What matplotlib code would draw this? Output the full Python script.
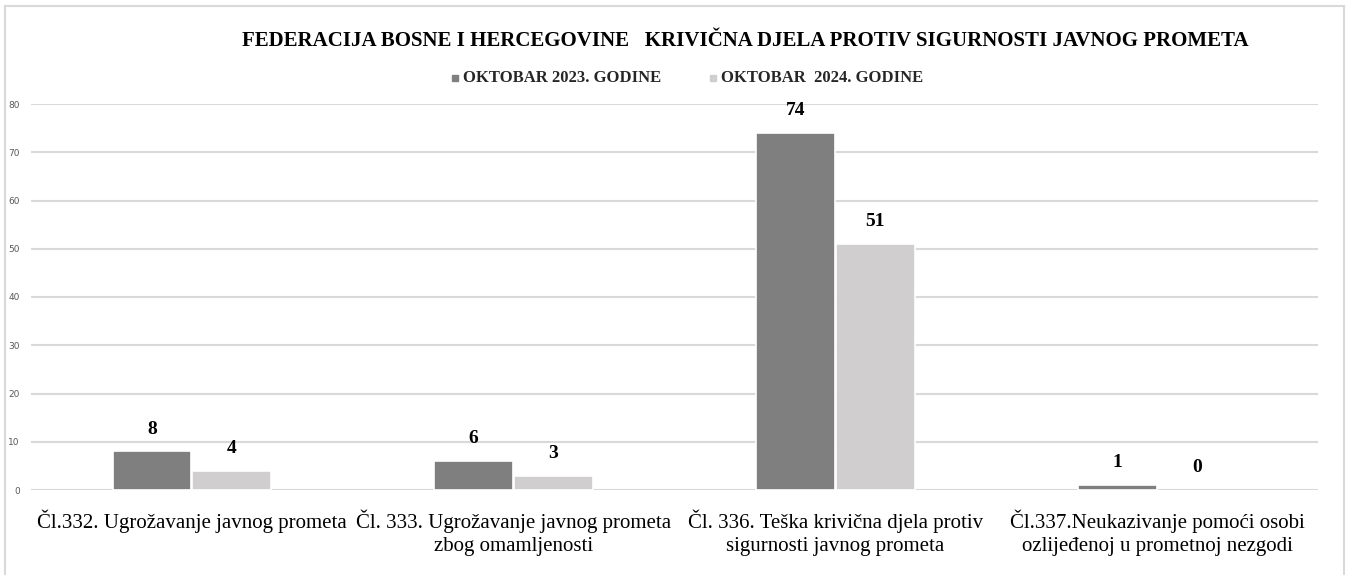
import matplotlib
matplotlib.use("Agg")
import matplotlib.pyplot as plt
from matplotlib.patches import Rectangle
from matplotlib.lines import Line2D
import numpy as np

categories = [
    "Čl.332. Ugrožavanje javnog prometa",
    "Čl. 333. Ugrožavanje javnog prometa\nzbog omamljenosti",
    "Čl. 336. Teška krivična djela protiv\nsigurnosti javnog prometa",
    "Čl.337.Neukazivanje pomoći osobi\nozlijeđenoj u prometnoj nezgodi",
]
series_2023 = [8, 6, 74, 1]
series_2024 = [4, 3, 51, 0]
series_names = ["OKTOBAR 2023. GODINE", "OKTOBAR  2024. GODINE"]
title = "FEDERACIJA BOSNE I HERCEGOVINE   KRIVIČNA DJELA PROTIV SIGURNOSTI JAVNOG PROMETA"
yticks = [0, 10, 20, 30, 40, 50, 60, 70, 80]

c_dark = "#7f7f7f"
c_light = "#d0cece"
serif = ["Liberation Serif", "DejaVu Serif"]

W, H = 1348, 575
fig = plt.figure(figsize=(W / 100, H / 100), dpi=100)
fig.patch.set_facecolor("white")

# outer frame
fig.add_artist(Line2D([5 / W, 5 / W], [0, 1 - 6 / H], color="#d9d9d9", lw=1.5))
fig.add_artist(Line2D([5 / W, 1344 / W], [1 - 6 / H, 1 - 6 / H], color="#d9d9d9", lw=1.5))
fig.add_artist(Line2D([1344 / W, 1344 / W], [0, 1 - 6 / H], color="#d9d9d9", lw=1.5))

ax_left, ax_right = 31, 1318
ax_top, ax_bot = 104, 490
ax = fig.add_axes([ax_left / W, 1 - ax_bot / H, (ax_right - ax_left) / W, (ax_bot - ax_top) / H])

x = np.arange(len(categories))
bw = 0.245
off = 0.124
b1 = ax.bar(x - off, series_2023, width=bw, color=c_dark, edgecolor="white", linewidth=1.2, zorder=3)
b2 = ax.bar(x + off, series_2024, width=bw, color=c_light, edgecolor="white", linewidth=1.2, zorder=3)

for bars, vals in ((b1, series_2023), (b2, series_2024)):
    for r, v in zip(bars, vals):
        if v == 0:
            r.set_linewidth(0)
        ax.annotate(str(v), (r.get_x() + r.get_width() / 2, v), xytext=(0, 16),
                    textcoords="offset points", ha="center", va="center",
                    fontsize=14, fontweight="bold", family=serif, color="black")

ax.set_xlim(-0.5, len(categories) - 0.5)
ax.set_ylim(0, 80)
ax.set_yticks(yticks)
ax.set_yticklabels([str(t) for t in yticks], fontsize=6.5, color="#595959")
ax.tick_params(axis="y", length=0, pad=8)
ax.tick_params(axis="x", length=0, pad=14)
ax.set_xticks(x)
ax.set_xticklabels(categories, fontsize=15, family=serif, color="black", linespacing=1.3)
for s in ax.spines.values():
    s.set_visible(False)
ax.grid(axis="y", color="#d9d9d9", lw=1.5, zorder=0)
ax.set_axisbelow(True)

fig.text(745 / W, 1 - 41 / H, title, ha="center", va="center", fontsize=15,
         fontweight="bold", family=serif, color="black")

# legend
ly = 1 - 78 / H
for mx, name, col in ((455, series_names[0], c_dark), (713, series_names[1], c_light)):
    fig.add_artist(Rectangle(((mx - 3) / W, ly - 3 / H), 6 / W, 6 / H, color=col, transform=fig.transFigure))
    fig.text((mx + 8) / W, ly, name, ha="left", va="center", fontsize=12,
             fontweight="bold", family=serif, color="#262626")

fig.savefig("out.png", dpi=100, facecolor="white")
